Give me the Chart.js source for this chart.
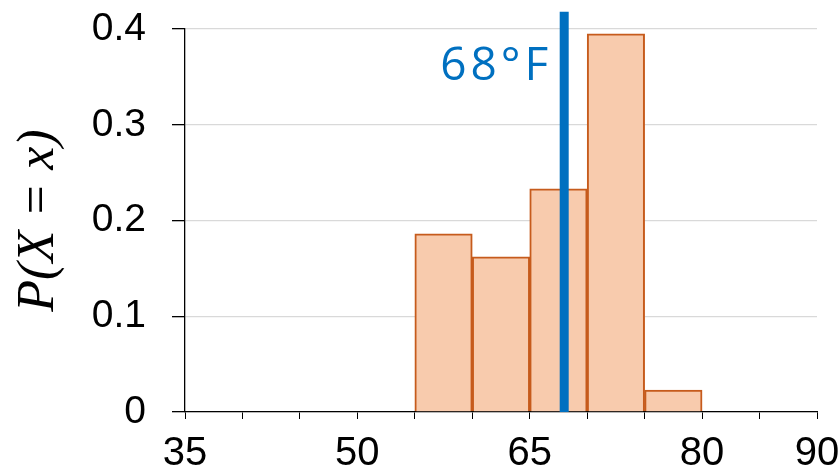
<!DOCTYPE html>
<html>
<head>
<meta charset="utf-8">
<script src="https://cdn.jsdelivr.net/npm/chart.js@4/dist/chart.umd.min.js"></script>
<style>
  html, body { margin: 0; padding: 0; background: #fff; }
  #wrap { width: 838px; height: 469px; position: relative; }
</style>
</head>
<body>
<div id="wrap"><canvas id="c"></canvas></div>
<script>
// ---- data ----
const binStarts = [55, 60, 65, 70, 75];
const binWidth = 5;
const probabilities = [0.186, 0.162, 0.233, 0.395, 0.023];
const markerTemp = 68;
const markerLabel = '68°F';
const markerTop = 0.418;
const xTickLabels = [35, 50, 65, 80, 90];
const yTickValues = [0, 0.1, 0.2, 0.3, 0.4];
const yTitle = 'P(X = x)';

const barPoints = binStarts.map((s, i) => ({ x: s + binWidth / 2, y: probabilities[i] }));

const labelPlugin = {
  id: 'markerLabel',
  afterDatasetsDraw(chart) {
    const { ctx, scales } = chart;
    const px = scales.x.getPixelForValue(markerTemp);
    const py = scales.y.getPixelForValue(0.36);
    ctx.save();
    ctx.font = '46px "Open Sans"';
    ctx.fillStyle = '#0070C0';
    ctx.textAlign = 'right';
    ctx.textBaseline = 'middle';
    try { ctx.letterSpacing = '4px'; } catch (e) {}
    ctx.fillText(markerLabel, px - 12, py);
    ctx.restore();
  }
};

new Chart(document.getElementById('c'), {
  type: 'bar',
  data: {
    datasets: [
      {
        type: 'line',
        data: [{ x: markerTemp, y: 0 }, { x: markerTemp, y: markerTop }],
        borderColor: '#0070C0',
        borderWidth: 9,
        pointRadius: 0,
        clip: false,
        order: 0
      },
      {
        type: 'bar',
        data: barPoints,
        backgroundColor: '#F8CBAD',
        borderColor: '#C65B1C',
        borderWidth: 2,
        barPercentage: 1,
        categoryPercentage: 1,
        order: 1
      }
    ]
  },
  options: {
    responsive: true,
    maintainAspectRatio: false,
    animation: false,
    layout: { padding: { top: 29, right: 21, left: 0, bottom: 0 } },
    plugins: { legend: { display: false }, tooltip: { enabled: false } },
    scales: {
      x: {
        type: 'linear',
        min: 35,
        max: 90,
        offset: false,
        afterFit: s => { s.height = 57; s.paddingLeft = 0; s.paddingRight = 0; },
        ticks: {
          stepSize: 5,
          autoSkip: false,
          maxRotation: 0,
          padding: 11,
          color: '#000',
          font: { family: '"Liberation Sans"', size: 40 },
          callback: v => xTickLabels.includes(v) ? String(v) : ''
        },
        grid: { offset: false, drawOnChartArea: false, drawTicks: true, tickLength: 7, color: '#000', tickColor: '#000' },
        border: { display: true, color: '#000', width: 1.3 }
      },
      y: {
        min: 0,
        max: 0.4,
        afterFit: s => { s.width = 185; s.paddingTop = 0; s.paddingBottom = 0; },
        afterBuildTicks: s => { s.ticks = yTickValues.map(v => ({ value: v })); },
        ticks: {
          padding: 26,
          color: '#000',
          font: { family: '"Liberation Sans"', size: 39 },
          callback: v => v === 0 ? '0' : v.toFixed(1)
        },
        grid: { color: '#d9d9d9', lineWidth: 1.3, drawTicks: true, tickLength: 13, tickColor: '#000' },
        border: { display: true, color: '#000', width: 1.3 },
        title: {
          display: true,
          text: yTitle,
          color: '#000',
          font: { family: '"Liberation Serif"', size: 52, style: 'italic' },
          padding: { top: 8, bottom: 0 }
        }
      }
    }
  },
  plugins: [labelPlugin]
});
</script>
</body>
</html>
